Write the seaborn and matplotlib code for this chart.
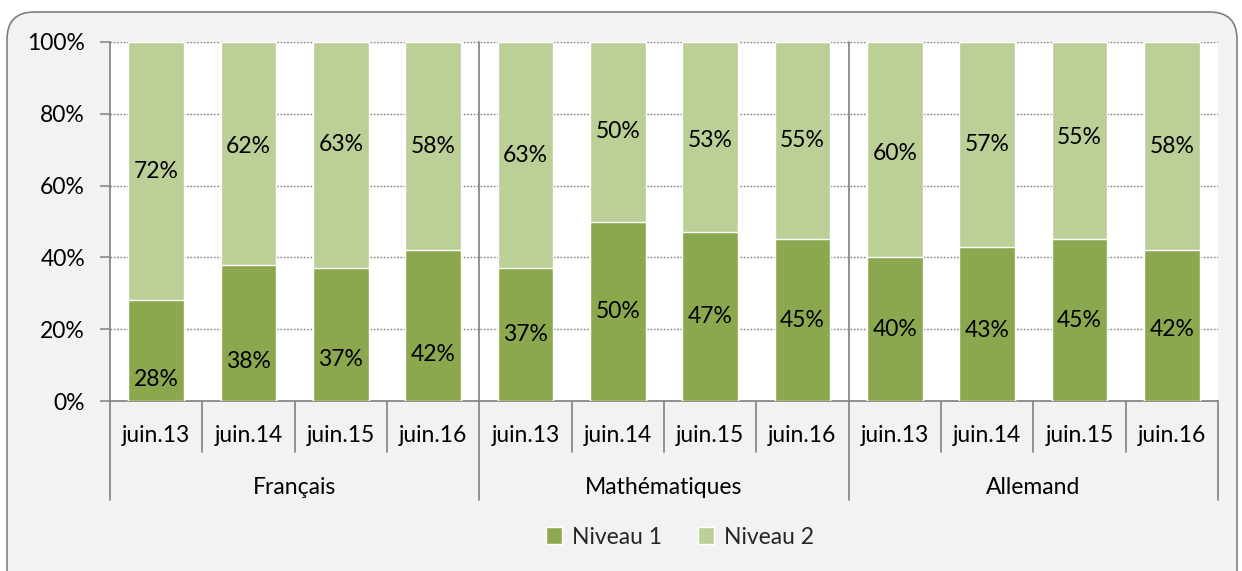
import numpy as np
import pandas as pd
import matplotlib
matplotlib.use("Agg")
import matplotlib.pyplot as plt
import seaborn as sns
from matplotlib.patches import FancyBboxPatch, Patch
import matplotlib.transforms as mtransforms

# ---- data ----
subjects = ["Français", "Mathématiques", "Allemand"]
periods = ["juin.13", "juin.14", "juin.15", "juin.16"]
niveau1 = [28, 38, 37, 42, 37, 50, 47, 45, 40, 43, 45, 42]
niveau2 = [72, 62, 63, 58, 63, 50, 53, 55, 60, 57, 55, 58]
yticks = [0, 20, 40, 60, 80, 100]

# label vertical nudges (in % units) to mimic manual placement
n1_nudge = [-8, -8, -7, -8, 0, 0, 0, 0, 0, -2, 0, -1]
n2_nudge = [0, 2, 3, 0, 0, 0, -1, 0, -1, 0, 1, 0]

C1 = "#8BA84F"
C2 = "#BBCF96"
GRAY = "#898989"
FS = 16.5

sns.set_theme(style="white")
plt.rcParams["font.family"] = ["Lato", "DejaVu Sans"]

keys = [f"{s}|{p}" for s in subjects for p in periods]
df = pd.DataFrame({"key": keys, "n1": niveau1, "n2": niveau2})
df["total"] = df["n1"] + df["n2"]

fig = plt.figure(figsize=(12.42, 5.71), dpi=100)
fig.patch.set_facecolor("white")
bg = FancyBboxPatch((7 / 1242, -0.05), (1237 - 7) / 1242, 1.05 - 12 / 571,
                    boxstyle="round,pad=0,rounding_size=0.022",
                    transform=fig.transFigure, facecolor="#F2F2F2", edgecolor="#7F7F7F",
                    linewidth=1.2, mutation_aspect=1242 / 571, zorder=-10)
fig.patches.append(bg)

ax = fig.add_axes([110 / 1242, 1 - 401 / 571, (1218 - 110) / 1242, (401 - 42) / 571])
ax.set_facecolor("white")

sns.barplot(data=df, x="key", y="total", color=C2, width=0.6, ax=ax,
            saturation=1, edgecolor="white", linewidth=1, zorder=3, order=keys)
sns.barplot(data=df, x="key", y="n1", color=C1, width=0.6, ax=ax,
            saturation=1, edgecolor="white", linewidth=1, zorder=4, order=keys)

ax.set_xlim(-0.5, len(keys) - 0.5)
ax.set_ylim(0, 100)
ax.set_yticks(yticks)
ax.set_yticklabels([f"{v}%" for v in yticks], fontsize=FS, color="black")
ax.yaxis.grid(True, linestyle=(0, (1.2, 1.2)), color="#7F7F7F", linewidth=1, zorder=0)
ax.set_axisbelow(True)
ax.tick_params(axis="y", left=True, length=7, width=1.2, color=GRAY, pad=11)
ax.set_xticks([])
ax.set_xlabel("")
ax.set_ylabel("")
for s in ["top", "right"]:
    ax.spines[s].set_visible(False)
ax.spines["left"].set_color(GRAY)
ax.spines["left"].set_linewidth(1.3)
ax.spines["bottom"].set_color(GRAY)
ax.spines["bottom"].set_linewidth(1.3)

# data labels
for i in range(len(keys)):
    ax.text(i, niveau1[i] / 2 + n1_nudge[i], f"{niveau1[i]}%", ha="center", va="center",
            fontsize=FS, color="black", zorder=6)
    ax.text(i, niveau1[i] + niveau2[i] / 2 + n2_nudge[i], f"{niveau2[i]}%", ha="center",
            va="center", fontsize=FS, color="black", zorder=6)

# multi-level category axis
trans = mtransforms.blended_transform_factory(ax.transData, ax.transAxes)
n = len(periods)
for i in range(len(keys)):
    ax.text(i, -0.097, periods[i % n], transform=trans, ha="center", va="center",
            fontsize=FS, color="black")
for i in range(len(keys) + 1):
    x = i - 0.5
    if i % n == 0:
        ax.plot([x, x], [0, -0.276], transform=trans, color=GRAY, lw=1.3, clip_on=False, zorder=5)
        if 0 < i < len(keys):
            ax.plot([x, x], [0, 1], transform=trans, color=GRAY, lw=1.3, clip_on=False, zorder=5)
    else:
        ax.plot([x, x], [0, -0.142], transform=trans, color=GRAY, lw=1.3, clip_on=False, zorder=5)
for g, s in enumerate(subjects):
    ax.text(g * n + (n - 1) / 2, -0.24, s, transform=trans, ha="center", va="center",
            fontsize=FS, color="black")

handles = [Patch(facecolor=C1, edgecolor="white", label="Niveau 1"),
           Patch(facecolor=C2, edgecolor="white", label="Niveau 2")]
fig.legend(handles=handles, loc="center", bbox_to_anchor=(680 / 1242, 1 - 537 / 571), ncol=2,
           frameon=False, fontsize=FS, handlelength=0.7, handleheight=0.7,
           handletextpad=0.4, columnspacing=1.6)

fig.savefig("out.png", dpi=100, facecolor=fig.get_facecolor())
